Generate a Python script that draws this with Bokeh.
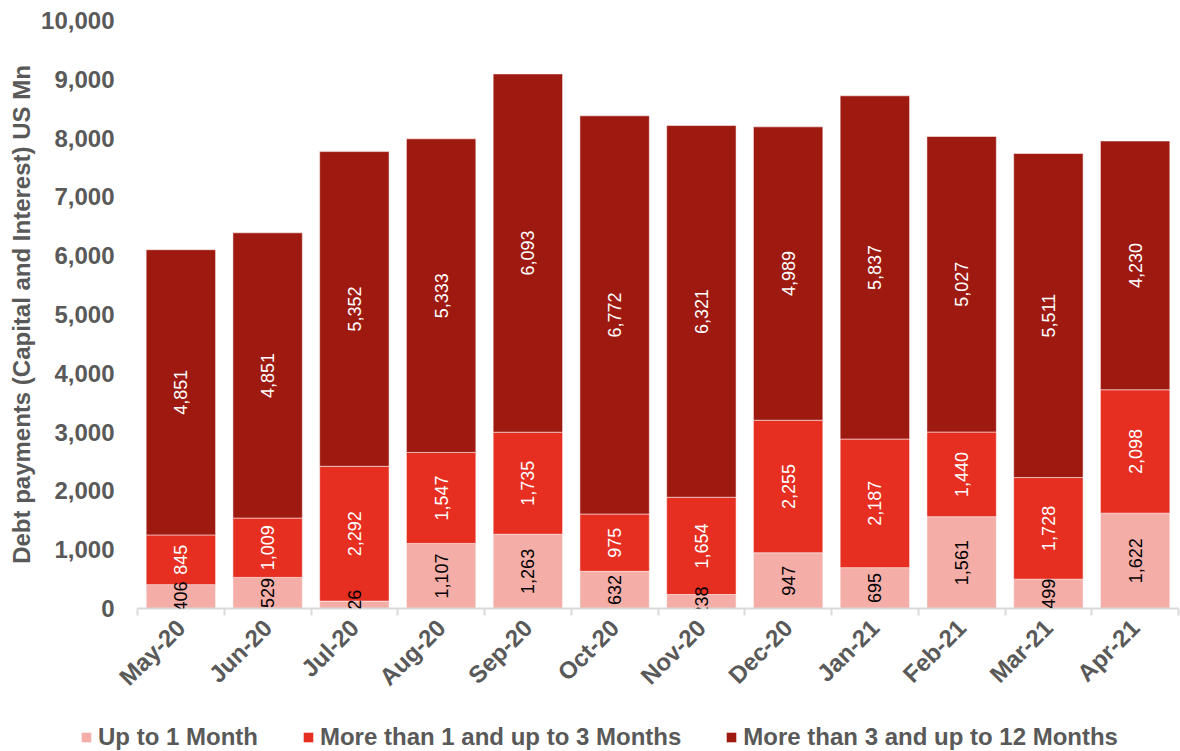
import numpy as np
from bokeh.plotting import figure
from bokeh.layouts import column
from bokeh.models import (ColumnDataSource, Range1d, FixedTicker, NumeralTickFormatter,
                          Legend, LegendItem, LabelSet)
from bokeh.core.properties import value
from bokeh.embed import file_html
from bokeh.resources import INLINE

months = ["May-20", "Jun-20", "Jul-20", "Aug-20", "Sep-20", "Oct-20",
          "Nov-20", "Dec-20", "Jan-21", "Feb-21", "Mar-21", "Apr-21"]
up_to_1 = [406, 529, 126, 1107, 1263, 632, 238, 947, 695, 1561, 499, 1622]
m1_to_3 = [845, 1009, 2292, 1547, 1735, 975, 1654, 2255, 2187, 1440, 1728, 2098]
m3_to_12 = [4851, 4851, 5352, 5333, 6093, 6772, 6321, 4989, 5837, 5027, 5511, 4230]
series_names = ["Up to 1 Month", "More than 1 and up to 3 Months", "More than 3 and up to 12 Months"]
colors = ["#F4ADA7", "#E62E21", "#9E1A11"]
label_colors = ["black", "white", "white"]

FONT = "Liberation Sans"
GREY = "#595959"

x = np.arange(len(months)) + 0.5

p = figure(width=1180, height=712, output_backend="svg", toolbar_location=None,
           x_range=Range1d(0, len(months)), y_range=Range1d(0, 10000),
           min_border_left=137, min_border_right=2, min_border_top=20, min_border_bottom=104)
p.frame_align = False
p.outline_line_color = None
p.xgrid.grid_line_color = None
p.ygrid.grid_line_color = None
p.background_fill_color = "white"
p.border_fill_color = "white"

# legend strip (own figure, placed below the chart)
pl = figure(width=1180, height=39, output_backend="svg", toolbar_location=None,
            x_axis_type=None, y_axis_type=None, x_range=Range1d(-1000, -999),
            y_range=Range1d(-1000000, -999999), min_border=0)
pl.frame_align = False
pl.outline_line_color = None
pl.xgrid.grid_line_color = None
pl.ygrid.grid_line_color = None

series = [up_to_1, m1_to_3, m3_to_12]
bottom = np.zeros(len(months))
items = []
for vals, col, lc, name in zip(series, colors, label_colors, series_names):
    vals = np.array(vals, dtype=float)
    top = bottom + vals
    src = ColumnDataSource(dict(x=x, bottom=bottom.copy(), top=top, mid=(bottom + top) / 2,
                                lab=[f"{int(v):,}" for v in vals]))
    p.vbar(x="x", width=0.8, bottom="bottom", top="top", source=src,
           fill_color=col, line_color="white", line_alpha=0.5, line_width=1)
    p.add_layout(LabelSet(x="x", y="mid", text="lab", source=src, angle=np.pi / 2,
                          text_align="center", text_baseline="middle", text_color=lc,
                          text_font=value(FONT), text_font_size=value("18px")))
    # same bars in the legend strip, outside its visible range (legend swatches only)
    rl = pl.vbar(x="x", width=0.8, bottom="bottom", top="top", source=src,
                 fill_color=col, line_color=None)
    items.append(LegendItem(label=name, renderers=[rl]))
    bottom = top

# y axis
ya = p.yaxis[0]
ya.ticker = FixedTicker(ticks=list(range(0, 10001, 1000)))
ya.formatter = NumeralTickFormatter(format="0,0")
ya.axis_line_color = None
ya.major_tick_line_color = None
ya.minor_tick_line_color = None
ya.major_label_text_font = FONT
ya.major_label_text_font_style = "bold"
ya.major_label_text_font_size = "24px"
ya.major_label_text_color = GREY
ya.major_label_standoff = 17
ya.axis_label = "Debt payments (Capital and Interest) US Mn"
ya.axis_label_text_font = FONT
ya.axis_label_text_font_style = "bold"
ya.axis_label_text_font_size = "24px"
ya.axis_label_text_color = GREY
ya.axis_label_standoff = 3

# x axis
xa = p.xaxis[0]
xa.ticker = FixedTicker(ticks=list(x), minor_ticks=list(range(0, len(months) + 1)))
xa.major_label_overrides = {float(xi): m for xi, m in zip(x, months)}
xa.major_label_orientation = np.pi / 4
xa.axis_line_color = "#D9D9D9"
xa.axis_line_width = 2
xa.major_tick_line_color = None
xa.minor_tick_line_color = "#D9D9D9"
xa.minor_tick_line_width = 2
xa.minor_tick_out = 7
xa.minor_tick_in = 0
xa.major_label_text_font = FONT
xa.major_label_text_font_style = "bold"
xa.major_label_text_font_size = "24px"
xa.major_label_text_color = GREY
xa.major_label_standoff = 8

legend = Legend(items=items, orientation="horizontal", location=(80, 0),
                label_text_font=FONT, label_text_font_style="bold",
                label_text_font_size="24px", label_text_color=GREY,
                glyph_width=12, glyph_height=12, label_standoff=6, spacing=44,
                padding=2, margin=0, border_line_color=None, background_fill_alpha=0)
pl.add_layout(legend, "center")

layout = column(p, pl, spacing=0)
open("out.html", "w").write(file_html(layout, INLINE))
